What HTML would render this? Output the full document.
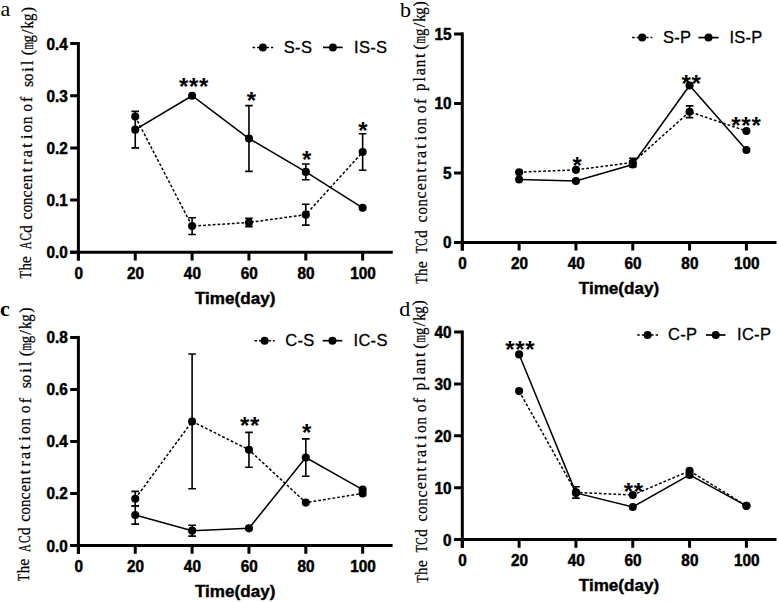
<!DOCTYPE html>
<html><head><meta charset="utf-8"><title>Cd concentration charts</title><style>
html,body{margin:0;padding:0;background:#fff;overflow:hidden}
svg{display:block}
text{fill:#000}
.tl{font-family:"Liberation Sans",sans-serif;font-weight:bold;font-size:16.5px;stroke:#000;stroke-width:0.5px}
.xt{font-family:"Liberation Sans",sans-serif;font-weight:bold;font-size:17.1px;stroke:#000;stroke-width:0.4px}
.st{font-family:"Liberation Sans",sans-serif;font-weight:bold;font-size:24px;letter-spacing:0.7px}
.lg{font-family:"Liberation Sans",sans-serif;font-size:16.5px;letter-spacing:0.3px;stroke:#000;stroke-width:0.3px}
.yt{font-family:"Liberation Serif",serif;font-size:16px;stroke:#000;stroke-width:0.25px}
.pl{font-family:"Liberation Serif",serif;font-size:22px}
</style></head>
<body><svg width="777" height="602" viewBox="0 0 777 602">
<rect width="777" height="602" fill="#fff"/>
<path d="M78.4 42.1V260.4" stroke="#000" stroke-width="3.0" fill="none"/>
<path d="M70.2 252.2H392.8" stroke="#000" stroke-width="3.0" fill="none"/>
<path d="M70.2 252.2H78.4M70.2 200.05H78.4M70.2 147.9H78.4M70.2 95.75H78.4M70.2 43.6H78.4" stroke="#000" stroke-width="3.0" fill="none"/>
<path d="M78.4 252.2V260.4M135.25 252.2V260.4M192.1 252.2V260.4M248.95 252.2V260.4M305.8 252.2V260.4M362.65 252.2V260.4" stroke="#000" stroke-width="3.0" fill="none"/>
<text transform="translate(67.7,258.2) scale(0.93,1)" class="tl" text-anchor="end">0.0</text>
<text transform="translate(67.7,206.05) scale(0.93,1)" class="tl" text-anchor="end">0.1</text>
<text transform="translate(67.7,153.9) scale(0.93,1)" class="tl" text-anchor="end">0.2</text>
<text transform="translate(67.7,101.75) scale(0.93,1)" class="tl" text-anchor="end">0.3</text>
<text transform="translate(67.7,49.6) scale(0.93,1)" class="tl" text-anchor="end">0.4</text>
<text transform="translate(78.7,278.6) scale(0.93,1)" class="tl" text-anchor="middle">0</text>
<text transform="translate(135.55,278.6) scale(0.93,1)" class="tl" text-anchor="middle">20</text>
<text transform="translate(192.4,278.6) scale(0.93,1)" class="tl" text-anchor="middle">40</text>
<text transform="translate(249.25,278.6) scale(0.93,1)" class="tl" text-anchor="middle">60</text>
<text transform="translate(306.1,278.6) scale(0.93,1)" class="tl" text-anchor="middle">80</text>
<text transform="translate(362.95,278.6) scale(0.93,1)" class="tl" text-anchor="middle">100</text>
<text x="235.2" y="303.7" class="xt" text-anchor="middle">Time(day)</text>
<path d="M192.1 217.78V234.47M188.3 217.78H195.9M188.3 234.47H195.9M248.95 218.3V226.65M245.15 218.3H252.75M245.15 226.65H252.75M305.8 204.22V225.08M302 204.22H309.6M302 225.08H309.6M362.65 133.82V170.32M358.85 133.82H366.45M358.85 170.32H366.45" stroke="#000" stroke-width="1.6" fill="none"/>
<polyline points="135.25,116.61 192.1,226.12 248.95,222.47 305.8,214.65 362.65,152.07" stroke="#000" stroke-width="1.5" fill="none" stroke-dasharray="2.8 2.0"/>
<circle cx="135.25" cy="116.61" r="4.05"/>
<circle cx="192.1" cy="226.12" r="4.05"/>
<circle cx="248.95" cy="222.47" r="4.05"/>
<circle cx="305.8" cy="214.65" r="4.05"/>
<circle cx="362.65" cy="152.07" r="4.05"/>
<path d="M135.25 111.39V147.9M131.45 111.39H139.05M131.45 147.9H139.05M248.95 105.66V171.37M245.15 105.66H252.75M245.15 171.37H252.75M305.8 164.07V179.71M302 164.07H309.6M302 179.71H309.6" stroke="#000" stroke-width="1.6" fill="none"/>
<polyline points="135.25,129.65 192.1,95.75 248.95,138.51 305.8,171.89 362.65,207.87" stroke="#000" stroke-width="1.55" fill="none"/>
<circle cx="135.25" cy="129.65" r="4.05"/>
<circle cx="192.1" cy="95.75" r="4.05"/>
<circle cx="248.95" cy="138.51" r="4.05"/>
<circle cx="305.8" cy="171.89" r="4.05"/>
<circle cx="362.65" cy="207.87" r="4.05"/>
<text x="194" y="95.2" class="st" text-anchor="middle">***</text>
<text x="251.7" y="108.7" class="st" text-anchor="middle">*</text>
<text x="307" y="168.1" class="st" text-anchor="middle">*</text>
<text x="363.2" y="138.8" class="st" text-anchor="middle">*</text>
<path d="M252.5 47.4H273.2" stroke="#000" stroke-width="1.5" stroke-dasharray="2.6 2" fill="none"/>
<circle cx="262.85" cy="47.4" r="4.0"/>
<text x="283.8" y="52.6" class="lg">S-S</text>
<path d="M323 47.4H342.7" stroke="#000" stroke-width="1.7" fill="none"/>
<circle cx="332.85" cy="47.4" r="4.0"/>
<text x="354" y="52.6" class="lg">IS-S</text>
<text transform="translate(31.16,274.7) rotate(-90)" x="-3.7" class="yt" textLength="7.4" lengthAdjust="spacingAndGlyphs">T</text>
<text transform="translate(31.22,266.8) rotate(-90)" x="-3.7" class="yt" textLength="7.4" lengthAdjust="spacingAndGlyphs">h</text>
<text transform="translate(31.28,259.6) rotate(-90)" class="yt" text-anchor="middle">e</text>
<text transform="translate(31.38,245.4) rotate(-90)" x="-3.7" class="yt" textLength="7.4" lengthAdjust="spacingAndGlyphs">A</text>
<text transform="translate(31.45,236.9) rotate(-90)" x="-3.7" class="yt" textLength="7.4" lengthAdjust="spacingAndGlyphs">C</text>
<text transform="translate(31.51,229) rotate(-90)" x="-3.7" class="yt" textLength="7.4" lengthAdjust="spacingAndGlyphs">d</text>
<text transform="translate(31.61,215.9) rotate(-90)" class="yt" text-anchor="middle">c</text>
<text transform="translate(31.66,208.65) rotate(-90)" x="-3.7" class="yt" textLength="7.4" lengthAdjust="spacingAndGlyphs">o</text>
<text transform="translate(31.72,201.2) rotate(-90)" x="-3.7" class="yt" textLength="7.4" lengthAdjust="spacingAndGlyphs">n</text>
<text transform="translate(31.77,193.9) rotate(-90)" class="yt" text-anchor="middle">c</text>
<text transform="translate(31.83,186.25) rotate(-90)" class="yt" text-anchor="middle">e</text>
<text transform="translate(31.89,178.6) rotate(-90)" x="-3.7" class="yt" textLength="7.4" lengthAdjust="spacingAndGlyphs">n</text>
<text transform="translate(31.95,170.1) rotate(-90)" class="yt" text-anchor="middle">t</text>
<text transform="translate(32.01,162) rotate(-90)" class="yt" text-anchor="middle">r</text>
<text transform="translate(32.07,153.8) rotate(-90)" class="yt" text-anchor="middle">a</text>
<text transform="translate(32.13,145.5) rotate(-90)" class="yt" text-anchor="middle">t</text>
<text transform="translate(32.2,136.85) rotate(-90)" class="yt" text-anchor="middle">i</text>
<text transform="translate(32.26,128.6) rotate(-90)" x="-3.7" class="yt" textLength="7.4" lengthAdjust="spacingAndGlyphs">o</text>
<text transform="translate(32.32,120.4) rotate(-90)" x="-3.7" class="yt" textLength="7.4" lengthAdjust="spacingAndGlyphs">n</text>
<text transform="translate(32.42,107.9) rotate(-90)" x="-3.7" class="yt" textLength="7.4" lengthAdjust="spacingAndGlyphs">o</text>
<text transform="translate(32.48,99.4) rotate(-90)" class="yt" text-anchor="middle">f</text>
<text transform="translate(32.6,84) rotate(-90)" class="yt" text-anchor="middle">s</text>
<text transform="translate(32.64,77.4) rotate(-90)" x="-3.7" class="yt" textLength="7.4" lengthAdjust="spacingAndGlyphs">o</text>
<text transform="translate(32.7,69.5) rotate(-90)" class="yt" text-anchor="middle">i</text>
<text transform="translate(32.75,62.8) rotate(-90)" class="yt" text-anchor="middle">l</text>
<text transform="translate(32.83,52.6) rotate(-90)" class="yt" text-anchor="middle">(</text>
<text transform="translate(32.88,45.9) rotate(-90)" x="-3.7" class="yt" textLength="7.4" lengthAdjust="spacingAndGlyphs">m</text>
<text transform="translate(32.93,38.7) rotate(-90)" x="-3.7" class="yt" textLength="7.4" lengthAdjust="spacingAndGlyphs">g</text>
<text transform="translate(32.99,31.8) rotate(-90)" class="yt" text-anchor="middle">/</text>
<text transform="translate(33.04,24.7) rotate(-90)" x="-3.7" class="yt" textLength="7.4" lengthAdjust="spacingAndGlyphs">k</text>
<text transform="translate(33.09,17.4) rotate(-90)" x="-3.7" class="yt" textLength="7.4" lengthAdjust="spacingAndGlyphs">g</text>
<text transform="translate(33.15,9.6) rotate(-90)" class="yt" text-anchor="middle">)</text>
<path d="M462.3 32.4V250.6" stroke="#000" stroke-width="3.0" fill="none"/>
<path d="M454.1 242.4H776.5" stroke="#000" stroke-width="3.0" fill="none"/>
<path d="M454.1 242.4H462.3M454.1 172.9H462.3M454.1 103.4H462.3M454.1 33.9H462.3" stroke="#000" stroke-width="3.0" fill="none"/>
<path d="M462.3 242.4V250.6M519.12 242.4V250.6M575.94 242.4V250.6M632.76 242.4V250.6M689.58 242.4V250.6M746.4 242.4V250.6" stroke="#000" stroke-width="3.0" fill="none"/>
<text transform="translate(451.6,248.4) scale(0.93,1)" class="tl" text-anchor="end">0</text>
<text transform="translate(451.6,178.9) scale(0.93,1)" class="tl" text-anchor="end">5</text>
<text transform="translate(451.6,109.4) scale(0.93,1)" class="tl" text-anchor="end">10</text>
<text transform="translate(451.6,39.9) scale(0.93,1)" class="tl" text-anchor="end">15</text>
<text transform="translate(462.6,268.8) scale(0.93,1)" class="tl" text-anchor="middle">0</text>
<text transform="translate(519.42,268.8) scale(0.93,1)" class="tl" text-anchor="middle">20</text>
<text transform="translate(576.24,268.8) scale(0.93,1)" class="tl" text-anchor="middle">40</text>
<text transform="translate(633.06,268.8) scale(0.93,1)" class="tl" text-anchor="middle">60</text>
<text transform="translate(689.88,268.8) scale(0.93,1)" class="tl" text-anchor="middle">80</text>
<text transform="translate(746.7,268.8) scale(0.93,1)" class="tl" text-anchor="middle">100</text>
<text x="619" y="293.9" class="xt" text-anchor="middle">Time(day)</text>
<path d="M632.76 158.31V166.64M628.96 158.31H636.56M628.96 166.64H636.56M689.58 105.9V117.58M685.78 105.9H693.38M685.78 117.58H693.38" stroke="#000" stroke-width="1.6" fill="none"/>
<polyline points="519.12,172.21 575.94,169.84 632.76,162.48 689.58,111.74 746.4,131.06" stroke="#000" stroke-width="1.5" fill="none" stroke-dasharray="2.8 2.0"/>
<circle cx="519.12" cy="172.21" r="4.05"/>
<circle cx="575.94" cy="169.84" r="4.05"/>
<circle cx="632.76" cy="162.48" r="4.05"/>
<circle cx="689.58" cy="111.74" r="4.05"/>
<circle cx="746.4" cy="131.06" r="4.05"/>
<polyline points="519.12,179.43 575.94,180.96 632.76,164.56 689.58,85.47 746.4,149.97" stroke="#000" stroke-width="1.55" fill="none"/>
<circle cx="519.12" cy="179.43" r="4.05"/>
<circle cx="575.94" cy="180.96" r="4.05"/>
<circle cx="632.76" cy="164.56" r="4.05"/>
<circle cx="689.58" cy="85.47" r="4.05"/>
<circle cx="746.4" cy="149.97" r="4.05"/>
<text x="577.6" y="173.9" class="st" text-anchor="middle">*</text>
<text x="691.6" y="92.2" class="st" text-anchor="middle">**</text>
<text x="746.4" y="134.1" class="st" text-anchor="middle">***</text>
<path d="M632.1 37.6H652.3" stroke="#000" stroke-width="1.5" stroke-dasharray="2.6 2" fill="none"/>
<circle cx="642.2" cy="37.6" r="4.0"/>
<text x="663" y="42.6" class="lg">S-P</text>
<path d="M698.4 37.6H718.6" stroke="#000" stroke-width="1.7" fill="none"/>
<circle cx="708.5" cy="37.6" r="4.0"/>
<text x="729.4" y="42.6" class="lg">IS-P</text>
<text transform="translate(427.3,280) rotate(-90)" x="-3.7" class="yt" textLength="7.4" lengthAdjust="spacingAndGlyphs">T</text>
<text transform="translate(427.22,272.3) rotate(-90)" x="-3.7" class="yt" textLength="7.4" lengthAdjust="spacingAndGlyphs">h</text>
<text transform="translate(427.15,264.6) rotate(-90)" class="yt" text-anchor="middle">e</text>
<text transform="translate(427,249.7) rotate(-90)" x="-3.7" class="yt" textLength="7.4" lengthAdjust="spacingAndGlyphs">T</text>
<text transform="translate(426.92,242) rotate(-90)" x="-3.7" class="yt" textLength="7.4" lengthAdjust="spacingAndGlyphs">C</text>
<text transform="translate(426.84,234) rotate(-90)" x="-3.7" class="yt" textLength="7.4" lengthAdjust="spacingAndGlyphs">d</text>
<text transform="translate(426.69,218.9) rotate(-90)" class="yt" text-anchor="middle">c</text>
<text transform="translate(426.61,210.9) rotate(-90)" x="-3.7" class="yt" textLength="7.4" lengthAdjust="spacingAndGlyphs">o</text>
<text transform="translate(426.53,202.9) rotate(-90)" x="-3.7" class="yt" textLength="7.4" lengthAdjust="spacingAndGlyphs">n</text>
<text transform="translate(426.45,194.9) rotate(-90)" class="yt" text-anchor="middle">c</text>
<text transform="translate(426.37,186.7) rotate(-90)" class="yt" text-anchor="middle">e</text>
<text transform="translate(426.28,178.2) rotate(-90)" x="-3.7" class="yt" textLength="7.4" lengthAdjust="spacingAndGlyphs">n</text>
<text transform="translate(426.2,170.3) rotate(-90)" class="yt" text-anchor="middle">t</text>
<text transform="translate(426.12,162.3) rotate(-90)" class="yt" text-anchor="middle">r</text>
<text transform="translate(426.04,154.4) rotate(-90)" class="yt" text-anchor="middle">a</text>
<text transform="translate(425.97,146.6) rotate(-90)" class="yt" text-anchor="middle">t</text>
<text transform="translate(425.88,138.4) rotate(-90)" class="yt" text-anchor="middle">i</text>
<text transform="translate(425.8,130) rotate(-90)" x="-3.7" class="yt" textLength="7.4" lengthAdjust="spacingAndGlyphs">o</text>
<text transform="translate(425.72,121.7) rotate(-90)" x="-3.7" class="yt" textLength="7.4" lengthAdjust="spacingAndGlyphs">n</text>
<text transform="translate(425.59,109.3) rotate(-90)" x="-3.7" class="yt" textLength="7.4" lengthAdjust="spacingAndGlyphs">o</text>
<text transform="translate(425.51,101.4) rotate(-90)" class="yt" text-anchor="middle">f</text>
<text transform="translate(425.37,87.4) rotate(-90)" x="-3.7" class="yt" textLength="7.4" lengthAdjust="spacingAndGlyphs">p</text>
<text transform="translate(425.29,79.4) rotate(-90)" class="yt" text-anchor="middle">l</text>
<text transform="translate(425.22,71.7) rotate(-90)" class="yt" text-anchor="middle">a</text>
<text transform="translate(425.13,63.5) rotate(-90)" x="-3.7" class="yt" textLength="7.4" lengthAdjust="spacingAndGlyphs">n</text>
<text transform="translate(425.06,55.8) rotate(-90)" class="yt" text-anchor="middle">t</text>
<text transform="translate(424.97,47.1) rotate(-90)" class="yt" text-anchor="middle">(</text>
<text transform="translate(424.9,39.8) rotate(-90)" x="-3.7" class="yt" textLength="7.4" lengthAdjust="spacingAndGlyphs">m</text>
<text transform="translate(424.82,32.3) rotate(-90)" x="-3.7" class="yt" textLength="7.4" lengthAdjust="spacingAndGlyphs">g</text>
<text transform="translate(424.75,25) rotate(-90)" class="yt" text-anchor="middle">/</text>
<text transform="translate(424.68,18) rotate(-90)" x="-3.7" class="yt" textLength="7.4" lengthAdjust="spacingAndGlyphs">k</text>
<text transform="translate(424.61,11) rotate(-90)" x="-3.7" class="yt" textLength="7.4" lengthAdjust="spacingAndGlyphs">g</text>
<text transform="translate(424.54,3.8) rotate(-90)" class="yt" text-anchor="middle">)</text>
<path d="M78.4 335.92V553.7" stroke="#000" stroke-width="3.0" fill="none"/>
<path d="M70.2 545.5H392.6" stroke="#000" stroke-width="3.0" fill="none"/>
<path d="M70.2 545.5H78.4M70.2 493.48H78.4M70.2 441.46H78.4M70.2 389.44H78.4M70.2 337.42H78.4" stroke="#000" stroke-width="3.0" fill="none"/>
<path d="M78.4 545.5V553.7M135.25 545.5V553.7M192.1 545.5V553.7M248.95 545.5V553.7M305.8 545.5V553.7M362.65 545.5V553.7" stroke="#000" stroke-width="3.0" fill="none"/>
<text transform="translate(67.7,551.5) scale(0.93,1)" class="tl" text-anchor="end">0.0</text>
<text transform="translate(67.7,499.48) scale(0.93,1)" class="tl" text-anchor="end">0.2</text>
<text transform="translate(67.7,447.46) scale(0.93,1)" class="tl" text-anchor="end">0.4</text>
<text transform="translate(67.7,395.44) scale(0.93,1)" class="tl" text-anchor="end">0.6</text>
<text transform="translate(67.7,343.42) scale(0.93,1)" class="tl" text-anchor="end">0.8</text>
<text transform="translate(78.7,571.9) scale(0.93,1)" class="tl" text-anchor="middle">0</text>
<text transform="translate(135.55,571.9) scale(0.93,1)" class="tl" text-anchor="middle">20</text>
<text transform="translate(192.4,571.9) scale(0.93,1)" class="tl" text-anchor="middle">40</text>
<text transform="translate(249.25,571.9) scale(0.93,1)" class="tl" text-anchor="middle">60</text>
<text transform="translate(306.1,571.9) scale(0.93,1)" class="tl" text-anchor="middle">80</text>
<text transform="translate(362.95,571.9) scale(0.93,1)" class="tl" text-anchor="middle">100</text>
<text x="235.2" y="597" class="xt" text-anchor="middle">Time(day)</text>
<path d="M135.25 491.4V505.96M131.45 491.4H139.05M131.45 505.96H139.05M192.1 354.07V488.8M188.3 354.07H195.9M188.3 488.8H195.9M248.95 432.36V467.21M245.15 432.36H252.75M245.15 467.21H252.75" stroke="#000" stroke-width="1.6" fill="none"/>
<polyline points="135.25,498.68 192.1,421.43 248.95,449.78 305.8,502.58 362.65,493.48" stroke="#000" stroke-width="1.5" fill="none" stroke-dasharray="2.8 2.0"/>
<circle cx="135.25" cy="498.68" r="4.05"/>
<circle cx="192.1" cy="421.43" r="4.05"/>
<circle cx="248.95" cy="449.78" r="4.05"/>
<circle cx="305.8" cy="502.58" r="4.05"/>
<circle cx="362.65" cy="493.48" r="4.05"/>
<path d="M135.25 505.96V524.17M131.45 505.96H139.05M131.45 524.17H139.05M192.1 525.21V536.14M188.3 525.21H195.9M188.3 536.14H195.9M305.8 438.86V476.31M302 438.86H309.6M302 476.31H309.6" stroke="#000" stroke-width="1.6" fill="none"/>
<polyline points="135.25,515.07 192.1,530.67 248.95,528.33 305.8,457.59 362.65,489.58" stroke="#000" stroke-width="1.55" fill="none"/>
<circle cx="135.25" cy="515.07" r="4.05"/>
<circle cx="192.1" cy="530.67" r="4.05"/>
<circle cx="248.95" cy="528.33" r="4.05"/>
<circle cx="305.8" cy="457.59" r="4.05"/>
<circle cx="362.65" cy="489.58" r="4.05"/>
<text x="250" y="434.1" class="st" text-anchor="middle">**</text>
<text x="307.1" y="441" class="st" text-anchor="middle">*</text>
<path d="M254.5 340.7H274.7" stroke="#000" stroke-width="1.5" stroke-dasharray="2.6 2" fill="none"/>
<circle cx="264.6" cy="340.7" r="4.0"/>
<text x="285.3" y="346" class="lg">C-S</text>
<path d="M322.6 340.7H342.3" stroke="#000" stroke-width="1.7" fill="none"/>
<circle cx="332.45" cy="340.7" r="4.0"/>
<text x="353.5" y="346" class="lg">IC-S</text>
<text transform="translate(29.35,577.5) rotate(-90)" x="-3.7" class="yt" textLength="7.4" lengthAdjust="spacingAndGlyphs">T</text>
<text transform="translate(29.4,569.53) rotate(-90)" x="-3.7" class="yt" textLength="7.4" lengthAdjust="spacingAndGlyphs">h</text>
<text transform="translate(29.45,562.27) rotate(-90)" class="yt" text-anchor="middle">e</text>
<text transform="translate(29.55,547.95) rotate(-90)" x="-3.7" class="yt" textLength="7.4" lengthAdjust="spacingAndGlyphs">A</text>
<text transform="translate(29.6,539.37) rotate(-90)" x="-3.7" class="yt" textLength="7.4" lengthAdjust="spacingAndGlyphs">C</text>
<text transform="translate(29.66,531.4) rotate(-90)" x="-3.7" class="yt" textLength="7.4" lengthAdjust="spacingAndGlyphs">d</text>
<text transform="translate(29.75,518.19) rotate(-90)" class="yt" text-anchor="middle">c</text>
<text transform="translate(29.79,510.88) rotate(-90)" x="-3.7" class="yt" textLength="7.4" lengthAdjust="spacingAndGlyphs">o</text>
<text transform="translate(29.84,503.36) rotate(-90)" x="-3.7" class="yt" textLength="7.4" lengthAdjust="spacingAndGlyphs">n</text>
<text transform="translate(29.89,496) rotate(-90)" class="yt" text-anchor="middle">c</text>
<text transform="translate(29.94,488.28) rotate(-90)" class="yt" text-anchor="middle">e</text>
<text transform="translate(30,480.57) rotate(-90)" x="-3.7" class="yt" textLength="7.4" lengthAdjust="spacingAndGlyphs">n</text>
<text transform="translate(30.05,471.99) rotate(-90)" class="yt" text-anchor="middle">t</text>
<text transform="translate(30.11,463.82) rotate(-90)" class="yt" text-anchor="middle">r</text>
<text transform="translate(30.16,455.55) rotate(-90)" class="yt" text-anchor="middle">a</text>
<text transform="translate(30.22,447.18) rotate(-90)" class="yt" text-anchor="middle">t</text>
<text transform="translate(30.28,438.45) rotate(-90)" class="yt" text-anchor="middle">i</text>
<text transform="translate(30.33,430.13) rotate(-90)" x="-3.7" class="yt" textLength="7.4" lengthAdjust="spacingAndGlyphs">o</text>
<text transform="translate(30.39,421.86) rotate(-90)" x="-3.7" class="yt" textLength="7.4" lengthAdjust="spacingAndGlyphs">n</text>
<text transform="translate(30.47,409.25) rotate(-90)" x="-3.7" class="yt" textLength="7.4" lengthAdjust="spacingAndGlyphs">o</text>
<text transform="translate(30.53,400.68) rotate(-90)" class="yt" text-anchor="middle">f</text>
<text transform="translate(30.63,385.14) rotate(-90)" class="yt" text-anchor="middle">s</text>
<text transform="translate(30.68,378.49) rotate(-90)" x="-3.7" class="yt" textLength="7.4" lengthAdjust="spacingAndGlyphs">o</text>
<text transform="translate(30.73,370.52) rotate(-90)" class="yt" text-anchor="middle">i</text>
<text transform="translate(30.77,363.76) rotate(-90)" class="yt" text-anchor="middle">l</text>
<text transform="translate(30.84,353.47) rotate(-90)" class="yt" text-anchor="middle">(</text>
<text transform="translate(30.89,346.71) rotate(-90)" x="-3.7" class="yt" textLength="7.4" lengthAdjust="spacingAndGlyphs">m</text>
<text transform="translate(30.94,339.45) rotate(-90)" x="-3.7" class="yt" textLength="7.4" lengthAdjust="spacingAndGlyphs">g</text>
<text transform="translate(30.98,332.49) rotate(-90)" class="yt" text-anchor="middle">/</text>
<text transform="translate(31.03,325.33) rotate(-90)" x="-3.7" class="yt" textLength="7.4" lengthAdjust="spacingAndGlyphs">k</text>
<text transform="translate(31.08,317.97) rotate(-90)" x="-3.7" class="yt" textLength="7.4" lengthAdjust="spacingAndGlyphs">g</text>
<text transform="translate(31.13,310.1) rotate(-90)" class="yt" text-anchor="middle">)</text>
<path d="M462.3 330.5V547.8" stroke="#000" stroke-width="3.0" fill="none"/>
<path d="M454.1 539.6H776.5" stroke="#000" stroke-width="3.0" fill="none"/>
<path d="M454.1 539.6H462.3M454.1 487.7H462.3M454.1 435.8H462.3M454.1 383.9H462.3M454.1 332H462.3" stroke="#000" stroke-width="3.0" fill="none"/>
<path d="M462.3 539.6V547.8M519.12 539.6V547.8M575.94 539.6V547.8M632.76 539.6V547.8M689.58 539.6V547.8M746.4 539.6V547.8" stroke="#000" stroke-width="3.0" fill="none"/>
<text transform="translate(451.6,545.6) scale(0.93,1)" class="tl" text-anchor="end">0</text>
<text transform="translate(451.6,493.7) scale(0.93,1)" class="tl" text-anchor="end">10</text>
<text transform="translate(451.6,441.8) scale(0.93,1)" class="tl" text-anchor="end">20</text>
<text transform="translate(451.6,389.9) scale(0.93,1)" class="tl" text-anchor="end">30</text>
<text transform="translate(451.6,338) scale(0.93,1)" class="tl" text-anchor="end">40</text>
<text transform="translate(462.6,566) scale(0.93,1)" class="tl" text-anchor="middle">0</text>
<text transform="translate(519.42,566) scale(0.93,1)" class="tl" text-anchor="middle">20</text>
<text transform="translate(576.24,566) scale(0.93,1)" class="tl" text-anchor="middle">40</text>
<text transform="translate(633.06,566) scale(0.93,1)" class="tl" text-anchor="middle">60</text>
<text transform="translate(689.88,566) scale(0.93,1)" class="tl" text-anchor="middle">80</text>
<text transform="translate(746.7,566) scale(0.93,1)" class="tl" text-anchor="middle">100</text>
<text x="619" y="591.1" class="xt" text-anchor="middle">Time(day)</text>
<path d="M575.94 486.71V498.13M572.14 486.71H579.74M572.14 498.13H579.74" stroke="#000" stroke-width="1.6" fill="none"/>
<polyline points="519.12,391.11 575.94,492.42 632.76,494.97 689.58,470.88 746.4,505.81" stroke="#000" stroke-width="1.5" fill="none" stroke-dasharray="2.8 2.0"/>
<circle cx="519.12" cy="391.11" r="4.05"/>
<circle cx="575.94" cy="492.42" r="4.05"/>
<circle cx="632.76" cy="494.97" r="4.05"/>
<circle cx="689.58" cy="470.88" r="4.05"/>
<circle cx="746.4" cy="505.81" r="4.05"/>
<polyline points="519.12,354.42 575.94,492.89 632.76,507.01 689.58,474.88 746.4,505.81" stroke="#000" stroke-width="1.55" fill="none"/>
<circle cx="519.12" cy="354.42" r="4.05"/>
<circle cx="575.94" cy="492.89" r="4.05"/>
<circle cx="632.76" cy="507.01" r="4.05"/>
<circle cx="689.58" cy="474.88" r="4.05"/>
<circle cx="746.4" cy="505.81" r="4.05"/>
<text x="520.2" y="357.7" class="st" text-anchor="middle">***</text>
<text x="633.7" y="499.7" class="st" text-anchor="middle">**</text>
<path d="M637.2 335H658" stroke="#000" stroke-width="1.5" stroke-dasharray="2.6 2" fill="none"/>
<circle cx="647.6" cy="335" r="4.0"/>
<text x="668" y="340.3" class="lg">C-P</text>
<path d="M705.9 335H725.5" stroke="#000" stroke-width="1.7" fill="none"/>
<circle cx="715.7" cy="335" r="4.0"/>
<text x="737" y="340.3" class="lg">IC-P</text>
<text transform="translate(427.5,579.1) rotate(-90)" x="-3.7" class="yt" textLength="7.4" lengthAdjust="spacingAndGlyphs">T</text>
<text transform="translate(427.42,571.4) rotate(-90)" x="-3.7" class="yt" textLength="7.4" lengthAdjust="spacingAndGlyphs">h</text>
<text transform="translate(427.33,563.7) rotate(-90)" class="yt" text-anchor="middle">e</text>
<text transform="translate(427.16,548.8) rotate(-90)" x="-3.7" class="yt" textLength="7.4" lengthAdjust="spacingAndGlyphs">T</text>
<text transform="translate(427.07,541.1) rotate(-90)" x="-3.7" class="yt" textLength="7.4" lengthAdjust="spacingAndGlyphs">C</text>
<text transform="translate(426.98,533.1) rotate(-90)" x="-3.7" class="yt" textLength="7.4" lengthAdjust="spacingAndGlyphs">d</text>
<text transform="translate(426.8,518) rotate(-90)" class="yt" text-anchor="middle">c</text>
<text transform="translate(426.71,510) rotate(-90)" x="-3.7" class="yt" textLength="7.4" lengthAdjust="spacingAndGlyphs">o</text>
<text transform="translate(426.62,502) rotate(-90)" x="-3.7" class="yt" textLength="7.4" lengthAdjust="spacingAndGlyphs">n</text>
<text transform="translate(426.53,494) rotate(-90)" class="yt" text-anchor="middle">c</text>
<text transform="translate(426.44,485.8) rotate(-90)" class="yt" text-anchor="middle">e</text>
<text transform="translate(426.34,477.3) rotate(-90)" x="-3.7" class="yt" textLength="7.4" lengthAdjust="spacingAndGlyphs">n</text>
<text transform="translate(426.25,469.4) rotate(-90)" class="yt" text-anchor="middle">t</text>
<text transform="translate(426.16,461.4) rotate(-90)" class="yt" text-anchor="middle">r</text>
<text transform="translate(426.07,453.5) rotate(-90)" class="yt" text-anchor="middle">a</text>
<text transform="translate(425.98,445.7) rotate(-90)" class="yt" text-anchor="middle">t</text>
<text transform="translate(425.88,437.5) rotate(-90)" class="yt" text-anchor="middle">i</text>
<text transform="translate(425.79,429.1) rotate(-90)" x="-3.7" class="yt" textLength="7.4" lengthAdjust="spacingAndGlyphs">o</text>
<text transform="translate(425.69,420.8) rotate(-90)" x="-3.7" class="yt" textLength="7.4" lengthAdjust="spacingAndGlyphs">n</text>
<text transform="translate(425.55,408.4) rotate(-90)" x="-3.7" class="yt" textLength="7.4" lengthAdjust="spacingAndGlyphs">o</text>
<text transform="translate(425.46,400.5) rotate(-90)" class="yt" text-anchor="middle">f</text>
<text transform="translate(425.3,386.5) rotate(-90)" x="-3.7" class="yt" textLength="7.4" lengthAdjust="spacingAndGlyphs">p</text>
<text transform="translate(425.21,378.5) rotate(-90)" class="yt" text-anchor="middle">l</text>
<text transform="translate(425.12,370.8) rotate(-90)" class="yt" text-anchor="middle">a</text>
<text transform="translate(425.02,362.6) rotate(-90)" x="-3.7" class="yt" textLength="7.4" lengthAdjust="spacingAndGlyphs">n</text>
<text transform="translate(424.94,354.9) rotate(-90)" class="yt" text-anchor="middle">t</text>
<text transform="translate(424.84,346.2) rotate(-90)" class="yt" text-anchor="middle">(</text>
<text transform="translate(424.75,338.9) rotate(-90)" x="-3.7" class="yt" textLength="7.4" lengthAdjust="spacingAndGlyphs">m</text>
<text transform="translate(424.67,331.4) rotate(-90)" x="-3.7" class="yt" textLength="7.4" lengthAdjust="spacingAndGlyphs">g</text>
<text transform="translate(424.58,324.1) rotate(-90)" class="yt" text-anchor="middle">/</text>
<text transform="translate(424.5,317.1) rotate(-90)" x="-3.7" class="yt" textLength="7.4" lengthAdjust="spacingAndGlyphs">k</text>
<text transform="translate(424.42,310.1) rotate(-90)" x="-3.7" class="yt" textLength="7.4" lengthAdjust="spacingAndGlyphs">g</text>
<text transform="translate(424.34,302.9) rotate(-90)" class="yt" text-anchor="middle">)</text>
<text x="0.6" y="16.2" class="pl">a</text>
<text x="400" y="17.2" class="pl">b</text>
<text x="0" y="315.6" class="pl" font-weight="bold">c</text>
<text x="399.2" y="315.9" class="pl">d</text>
</svg></body></html>
